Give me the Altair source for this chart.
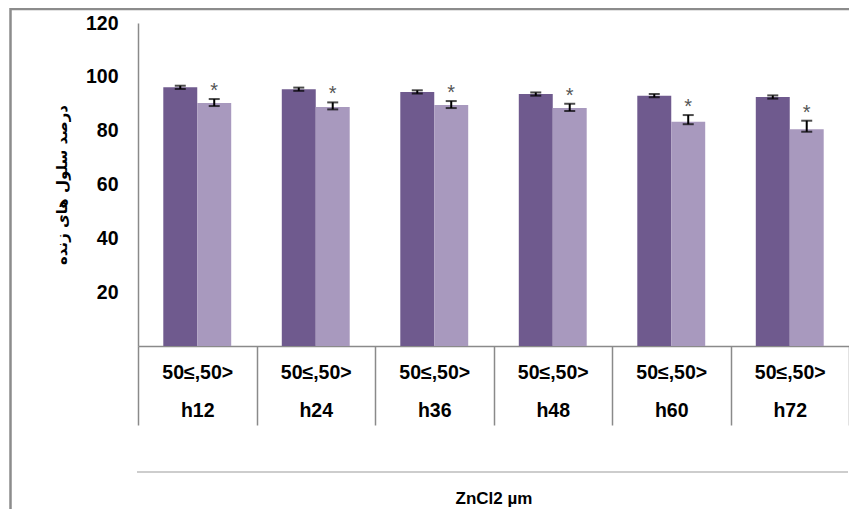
import altair as alt
import pandas as pd

times = ["h12", "h24", "h36", "h48", "h60", "h72"]
groups = ["a", "b"]
ctrl = [96.1, 95.4, 94.4, 93.6, 93.0, 92.5]
ctrl_err = [0.6, 0.6, 0.6, 0.6, 0.6, 0.6]
treat = [90.3, 88.8, 89.5, 88.4, 83.3, 80.5]
treat_lo = [89.15, 87.9, 88.4, 87.3, 82.4, 79.6]
treat_hi = [91.75, 90.5, 91.0, 90.0, 85.8, 83.7]
sub_label = "50≤,50>"
y_ticks = [20, 40, 60, 80, 100, 120]
y_title = "درصد سلول های زنده"
x_title = "ZnCl2 µm"

rows = []
for i, t in enumerate(times):
    rows.append({"time": t, "grp": "a", "value": ctrl[i], "lo": ctrl[i] - ctrl_err[i], "hi": ctrl[i] + ctrl_err[i]})
    rows.append({"time": t, "grp": "b", "value": treat[i], "lo": treat_lo[i], "hi": treat_hi[i]})
df = pd.DataFrame(rows)

W, H = 711, 323

x_enc = alt.X("time:N", sort=times,
              scale=alt.Scale(paddingInner=0, paddingOuter=0),
              axis=alt.Axis(title=x_title, labelAngle=0,
                            labelExpr="datum.label ? ['" + sub_label + "', datum.label] : ''",
                            labelLineHeight=38, labelFontSize=19.5, labelFontWeight="bold",
                            labelFont="Liberation Sans", labelColor="black",
                            labelPadding=-62, labelBaseline="top",
                            tickBand="extent", tickSize=79, tickColor="#8a8a8a", tickWidth=1.5,
                            domainColor="#8a8a8a", domainWidth=1.5,
                            titleFont="Liberation Sans", titleFontSize=17, titleFontWeight="bold",
                            titleColor="black", titleY=152, titleBaseline="middle"))
xo_enc = alt.XOffset("grp:N", sort=groups, scale=alt.Scale(paddingOuter=0.745, paddingInner=0))
y_scale = alt.Scale(domain=[0, 120], nice=False)

base = alt.Chart(df)

bars = base.mark_bar(stroke=None).encode(
    x=x_enc, xOffset=xo_enc,
    y=alt.Y("value:Q", scale=y_scale,
            axis=alt.Axis(values=y_ticks, title=y_title, ticks=False, grid=False,
                          domainColor="#8a8a8a", domainWidth=1.5,
                          labelFontSize=19.5, labelFontWeight="bold", labelFont="Liberation Sans",
                          labelColor="black", labelPadding=20,
                          titleFont="DejaVu Sans", titleFontSize=15, titleFontWeight="bold",
                          titleColor="black", titleX=-69, titleY=161.5, titleAngle=-90)),
    color=alt.Color("grp:N", scale=alt.Scale(domain=groups, range=["#6f5a8e", "#a899be"]), legend=None),
)

err = base.mark_rule(color="black", strokeWidth=2).encode(
    x=alt.X("time:N", sort=times), xOffset=alt.XOffset("grp:N", sort=groups),
    y=alt.Y("lo:Q", scale=y_scale), y2="hi:Q")

cap_lo = base.mark_tick(color="black", size=11, thickness=2).encode(
    x=alt.X("time:N", sort=times), xOffset=alt.XOffset("grp:N", sort=groups),
    y=alt.Y("lo:Q", scale=y_scale))
cap_hi = base.mark_tick(color="black", size=11, thickness=2).encode(
    x=alt.X("time:N", sort=times), xOffset=alt.XOffset("grp:N", sort=groups),
    y=alt.Y("hi:Q", scale=y_scale))

stars = alt.Chart(df[df.grp == "b"]).mark_text(text="*", fontSize=20, color="#555555",
                                               baseline="alphabetic", dy=-2,
                                               font="Liberation Sans").encode(
    x=alt.X("time:N", sort=times), xOffset=alt.XOffset("grp:N", sort=groups),
    y=alt.Y("hi:Q", scale=y_scale))

one = pd.DataFrame({"k": [0]})
bottom_line = alt.Chart(one).mark_rule(color="#bdbdbd", strokeWidth=1.5).encode(
    x=alt.value(-1), x2=alt.value(710), y=alt.value(449))
border = alt.Chart(one).mark_rect(fillOpacity=0, stroke="#8c8c8c", strokeWidth=2.5).encode(
    x=alt.value(-127.5), x2=alt.value(760), y=alt.value(-14), y2=alt.value(540))

chart = alt.layer(bars, err, cap_lo, cap_hi, stars, bottom_line, border).properties(
    width=W, height=H,
    autosize=alt.AutoSizeParams(type="none"),
    padding={"left": 130, "top": 15, "right": 0, "bottom": 163},
).configure_view(stroke=None)

chart.save("out.html", embed_options={"renderer": "svg", "actions": False})
